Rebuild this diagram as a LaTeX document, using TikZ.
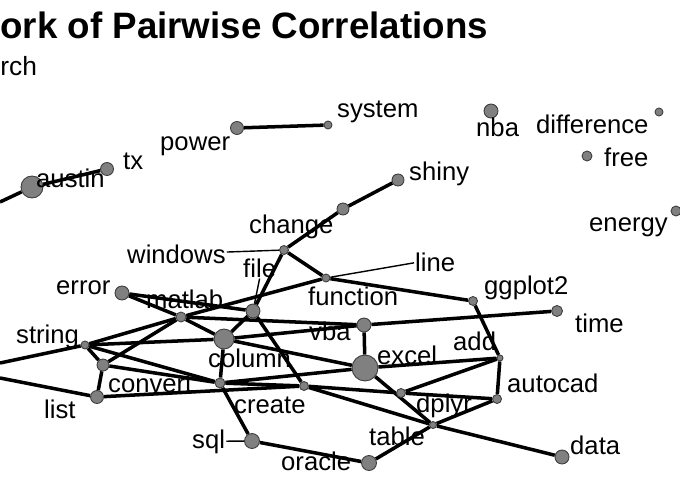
\documentclass[tikz,border=0pt]{standalone}
\usepackage{fontspec}
\setmainfont{Liberation Sans}
\usetikzlibrary{backgrounds}
\definecolor{vertexgray}{HTML}{808080}
\definecolor{vertexrim}{HTML}{3c3c3c}

\begin{document}
\begin{tikzpicture}[
    x=0.02cm, y=-0.02cm,
    vertex/.style={circle, fill=vertexgray, draw=vertexrim, line width=0.5pt,
                   inner sep=0pt, minimum size={0.04cm*#1}},
    word/.style={anchor=base west, inner sep=0.5pt, font=\fontsize{14.6}{17}\selectfont},
    edge/.style={line width=2pt, black},
    leader/.style={line width=0.8pt, black},
]
    \useasboundingbox (0,0) rectangle (680,500);

    % Heading
    \node[anchor=base west, inner sep=0pt, font=\fontsize{20.9}{24}\selectfont\bfseries]
        (title) at (0,39) {ork of Pairwise Correlations};
    \node[word, inner sep=0pt, font=\fontsize{15}{18}\selectfont] (subtitle) at (0,76) {rch};

    % Loose words at the top
    \node[vertex=11]  (austin) at (32,187) {};
    \node[vertex=6.5] (tx) at (107,169) {};
    \node[vertex=6.5] (power) at (237,128) {};
    \node[vertex=4]   (system) at (328,125) {};
    \node[vertex=7]   (nba) at (491,111) {};
    \node[vertex=4]   (difference) at (659,112) {};
    \node[vertex=5]   (free) at (587,156) {};
    \node[vertex=5]   (energy) at (676,211) {};
    \coordinate (austinout) at (0,202);

    % Main cluster
    \node[vertex=6]   (shiny) at (398,180) {};
    \node[vertex=6]   (change) at (343,209) {};
    \node[vertex=4.5] (windows) at (284,250) {};
    \node[vertex=4]   (function) at (326,278) {};
    \node[vertex=7]   (file) at (253,311) {};
    \node[vertex=5]   (matlab) at (181,317) {};
    \node[vertex=7]   (error) at (122,293) {};
    \node[vertex=10]  (column) at (224,339) {};
    \node[vertex=7]   (vba) at (364,325) {};
    \node[vertex=13]  (excel) at (365,368) {};
    \node[vertex=5]   (create) at (220,383) {};
    \node[vertex=4.5] (hub) at (304,386) {};
    \node[vertex=4]   (string) at (85,345) {};
    \node[vertex=6]   (convert) at (103,365) {};
    \node[vertex=6.5] (list) at (97,397) {};
    \node[vertex=7.5] (sql) at (252,441) {};
    \node[vertex=7.5] (oracle) at (369,463) {};
    \node[vertex=3.5] (table) at (433,425) {};
    \node[vertex=4.5] (dplyr) at (401,393) {};
    \node[vertex=4.5] (autocad) at (497,399) {};
    \node[vertex=3]   (add) at (500,358) {};
    \node[vertex=4.5] (ggplot) at (473,301) {};
    \node[vertex=5.5] (time) at (557,311) {};
    \node[vertex=7]   (data) at (562,457) {};
    \coordinate (stringout) at (0,363);
    \coordinate (listout) at (0,378);

    % Labels
    \node[word] (lpower) at (159,151) {power};
    \node[word] (lsystem) at (336,118) {system};
    \node[word] (ltx) at (122,170) {tx};
    \node[word] (laustin) at (35,188) {austin};
    \node[word] (lnba) at (475,137) {nba};
    \node[word] (ldifference) at (535,133) {difference};
    \node[word] (lfree) at (603,167) {free};
    \node[word] (lenergy) at (588,232) {energy};
    \node[word] (lshiny) at (408,180) {shiny};
    \node[word] (lchange) at (248,234) {change};
    \node[word] (lwindows) at (126,263) {windows};
    \node[word] (lfile) at (242,277) {file};
    \node[word] (lerror) at (55,295) {error};
    \node[word] (lmatlab) at (145,308) {matlab};
    \node[word] (lstring) at (15,343) {string};
    \node[word] (lfunction) at (307,305) {function};
    \node[word] (lline) at (414,272) {line};
    \node[word] (lggplot) at (483,295) {ggplot2};
    \node[word] (ltime) at (574,332) {time};
    \node[word] (lvba) at (308,340) {vba};
    \node[word] (lcolumn) at (207,367) {column};
    \node[word] (ladd) at (452,350) {add};
    \node[word] (lexcel) at (376,364) {excel};
    \node[word] (lconvert) at (107,392) {convert};
    \node[word] (llist) at (43,418) {list};
    \node[word] (lcreate) at (233,413) {create};
    \node[word] (lautocad) at (506,392) {autocad};
    \node[word] (ldplyr) at (415,412) {dplyr};
    \node[word] (lsql) at (191,448) {sql};
    \node[word] (ltable) at (368,445) {table};
    \node[word] (loracle) at (280,470) {oracle};
    \node[word] (ldata) at (569,454) {data};

    % Connections
    \begin{scope}[on background layer]
        \draw[edge] (austinout) -- (austin) -- (tx);
        \draw[edge] (power) -- (system);
        \draw[edge] (shiny) -- (change) -- (windows) -- (function);
        \draw[edge] (windows) -- (file);
        \draw[edge] (function) -- (ggplot) -- (add);
        \draw[edge] (function) -- (matlab);
        \draw[edge] (error) -- (file);
        \draw[edge] (error) -- (matlab) -- (column);
        \draw[edge] (matlab) -- (string);
        \draw[edge] (matlab) -- (convert);
        \draw[edge] (matlab) -- (vba);
        \draw[edge] (stringout) -- (string) -- (convert) -- (list) -- (listout);
        \draw[edge] (string) -- (column);
        \draw[edge] (string) -- (create);
        \draw[edge] (convert) -- (create);
        \draw[edge] (list) -- (hub);
        \draw[edge] (column) -- (file);
        \draw[edge] (column) -- (vba);
        \draw[edge] (column) -- (excel);
        \draw[edge] (column) -- (create);
        \draw[edge] (create) -- (excel);
        \draw[edge] (create) -- (hub);
        \draw[edge] (create) -- (sql) -- (oracle) -- (table);
        \draw[edge] (file) -- (hub);
        \draw[edge] (vba) -- (excel);
        \draw[edge] (vba) -- (time);
        \draw[edge] (excel) -- (add);
        \draw[edge] (excel) -- (table);
        \draw[edge] (add) -- (autocad);
        \draw[edge] (add) -- (dplyr);
        \draw[edge] (hub) -- (dplyr) -- (autocad);
        \draw[edge] (hub) -- (table) -- (data);
        \draw[edge] (table) -- (autocad);
        % label leaders
        \draw[leader] (lwindows) -- (windows);
        \draw[leader] (lline.west) -- (function);
        \draw[leader] (lfile.south) -- (file);
        \draw[leader] (lsql) -- (sql);
    \end{scope}
\end{tikzpicture}
\end{document}
